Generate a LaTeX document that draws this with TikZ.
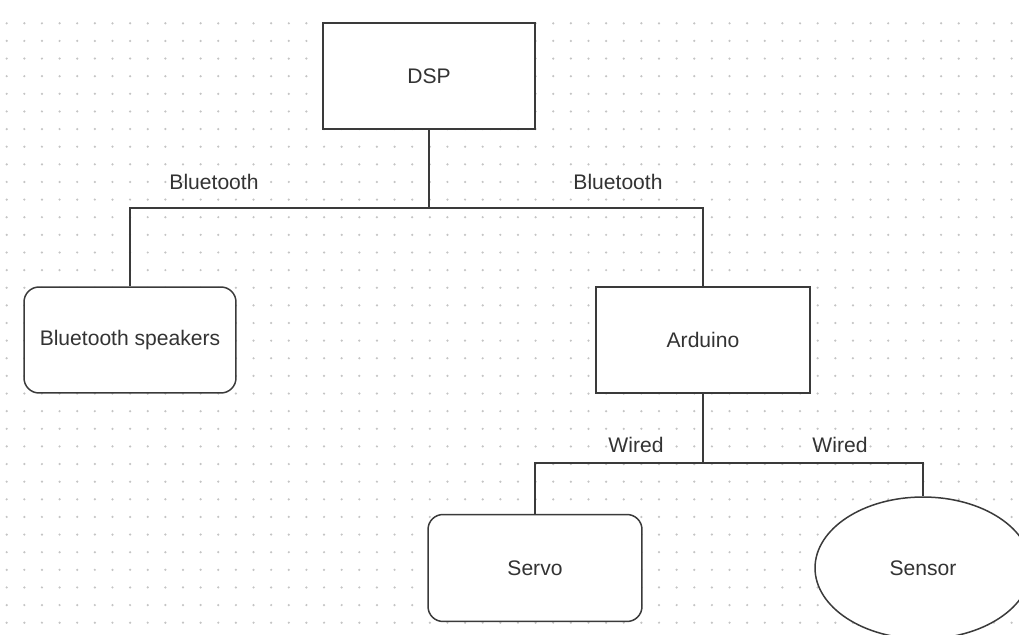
\documentclass[tikz,border=0pt]{standalone}
\usepackage{fontspec}
\setmainfont{Liberation Sans}
\usepackage{tikz}
\usetikzlibrary{shapes.geometric}
\definecolor{linegray}{HTML}{3A3A3A}
\definecolor{dotgray}{HTML}{C4C4C4}
\definecolor{textgray}{HTML}{333333}
\tikzset{
    every node/.style={font=\fontsize{12}{14}\selectfont, text=textgray},
    box/.style={rectangle, draw=linegray, line width=0.85pt, fill=white, minimum width=4.24cm, minimum height=2.12cm},
    rbox/.style={box, rounded corners=0.3cm},
    oval/.style={ellipse, draw=linegray, line width=0.85pt, fill=white, minimum width=4.32cm, minimum height=2.84cm},
    wire/.style={draw=linegray, line width=0.85pt}
}

\begin{document}
\begin{tikzpicture}[x=0.02cm, y=-0.02cm]
        \useasboundingbox (0,0) rectangle (1019,635);
        \clip (0,0) rectangle (1019,635);
        % dotted grid
        \foreach \i in {0,...,57}
                \foreach \j in {0,...,34}
                        \fill[dotgray] (6.7+17.63*\i, 23.3+17.63*\j) circle (0.7pt);
        \node (dsp) [box] at (429, 76) {DSP};
        \node (spk) [rbox] at (130, 340) {Bluetooth speakers};
        \node (ard) [box, minimum width=4.28cm] at (703, 340) {Arduino};
        \node (servo) [rbox, minimum width=4.28cm, minimum height=2.14cm] at (535, 568) {Servo};
        \node (sensor) [oval] at (923, 568) {Sensor};
        \coordinate (b1) at (429, 208);
        \coordinate (b2) at (703, 463);
        \node (bt1) at (214, 182) {Bluetooth};
        \node (bt2) at (618, 182) {Bluetooth};
        \node (w1) at (636, 445) {Wired};
        \node (w2) at (840, 445) {Wired};
        \draw[wire] (dsp) -- (b1);
        \draw[wire] (b1) -| (spk);
        \draw[wire] (b1) -| (ard);
        \draw[wire] (ard) -- (b2);
        \draw[wire] (b2) -| (servo);
        \draw[wire] (b2) -| (sensor);
\end{tikzpicture}
\end{document}
